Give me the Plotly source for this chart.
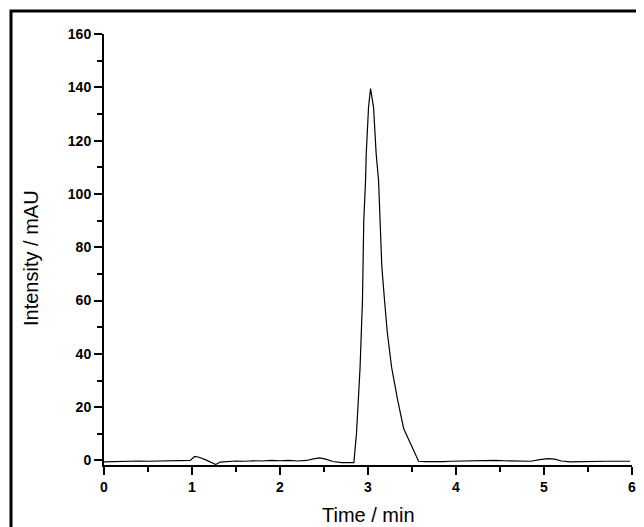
import plotly.graph_objects as go

# Chromatogram
time_min = [
    0.00, 0.10, 0.20, 0.30, 0.40, 0.50, 0.60, 0.70, 0.80, 0.90, 0.98,
    1.03, 1.08, 1.15, 1.22, 1.27, 1.32, 1.40, 1.50, 1.60, 1.70, 1.80,
    1.90, 2.00, 2.10, 2.20, 2.30, 2.38, 2.45, 2.52, 2.60, 2.70, 2.78,
    2.84, 2.855, 2.869, 2.89, 2.91, 2.937, 2.952, 2.972, 2.980, 3.006,
    3.029, 3.063, 3.093, 3.120, 3.139, 3.157, 3.188, 3.22, 3.268, 3.337,
    3.405, 3.44, 3.49, 3.575, 3.65, 3.75, 3.85, 3.95, 4.05, 4.15, 4.25,
    4.35, 4.45, 4.55, 4.65, 4.75, 4.85, 4.95, 5.05, 5.12, 5.20, 5.30,
    5.40, 5.50, 5.60, 5.70, 5.80, 5.90, 5.98,
]
intensity_mau = [
    -0.5, -0.4, -0.3, -0.4, -0.2, -0.3, -0.2, -0.1, -0.2, -0.1, 0.0,
    1.5, 1.2, 0.3, -0.6, -1.5, -0.6, -0.3, -0.2, -0.3, -0.1, -0.2,
    0.0, -0.1, 0.0, -0.2, 0.0, 0.6, 1.0, 0.5, -0.4, -0.8, -0.9,
    -0.8, 5.0, 10.0, 22.6, 35.0, 60.0, 90.0, 105.0, 115.0, 132.5,
    139.5, 132.5, 115.0, 105.0, 90.0, 72.8, 60.0, 47.8, 35.0, 22.6,
    12.0, 9.5, 6.4, -0.3, -0.4, -0.5, -0.4, -0.3, -0.2, -0.1, -0.2,
    -0.1, 0.0, -0.1, -0.2, -0.3, -0.3, 0.3, 0.7, 0.5, -0.2, -0.5,
    -0.4, -0.4, -0.3, -0.3, -0.3, -0.2, -0.3,
]

x_ticks = [0, 1, 2, 3, 4, 5, 6]
y_ticks = [0, 20, 40, 60, 80, 100, 120, 140, 160]

OFF = 8  # page body margin
W, H = 644 - OFF, 527 - OFF
L, R, T, B = 104 - OFF, 12, 34 - OFF, 62
pw, ph = W - L - R, H - T - B

def px_to_paper_x(px):
    return (px - OFF - L) / pw

def px_to_paper_y(py):
    return (H - B - (py - OFF)) / ph

fig = go.Figure()
fig.add_trace(go.Scatter(
    x=time_min, y=intensity_mau, mode="lines",
    line=dict(color="black", width=1.2), showlegend=False,
))

tickfont = dict(family="Arial, Liberation Sans, sans-serif", size=14, color="black", weight="bold")

fig.update_xaxes(
    range=[0, 6], tickvals=x_ticks, ticktext=[str(v) for v in x_ticks],
    showgrid=False, zeroline=False, showline=True, linecolor="black", linewidth=2,
    ticks="outside", ticklen=8, tickwidth=2, tickcolor="black", automargin=False,
    minor=dict(dtick=0.5, tick0=0, ticks="outside", ticklen=5, tickwidth=1.5, tickcolor="black", showgrid=False),
    tickfont=tickfont,
)
fig.update_yaxes(
    range=[-1.7, 160], tickvals=y_ticks, ticktext=[str(v) for v in y_ticks],
    showgrid=False, zeroline=False, showline=True, linecolor="black", linewidth=2,
    ticks="outside", ticklen=8, tickwidth=2, tickcolor="black", automargin=False,
    minor=dict(dtick=10, tick0=0, ticks="outside", ticklen=5, tickwidth=1.5, tickcolor="black", showgrid=False),
    tickfont=tickfont,
)

titlefont = dict(family="Arial, Liberation Sans, sans-serif", size=20, color="black")
fig.add_annotation(text="Time / min", xref="paper", yref="paper",
                   x=px_to_paper_x(368), y=px_to_paper_y(515),
                   xanchor="center", yanchor="middle", showarrow=False, font=titlefont)
fig.add_annotation(text="Intensity / mAU", xref="paper", yref="paper",
                   x=px_to_paper_x(31), y=px_to_paper_y(258), textangle=-90,
                   xanchor="center", yanchor="middle", showarrow=False, font=titlefont)

# outer frame
fig.add_shape(type="rect", xref="paper", yref="paper",
              x0=px_to_paper_x(11), x1=px_to_paper_x(660),
              y0=px_to_paper_y(540), y1=px_to_paper_y(11),
              line=dict(color="black", width=3), fillcolor="rgba(0,0,0,0)", layer="below")

fig.update_layout(
    width=W, height=H,
    margin=dict(l=L, r=R, t=T, b=B),
    paper_bgcolor="white", plot_bgcolor="white",
)
fig.write_html("out.html")
